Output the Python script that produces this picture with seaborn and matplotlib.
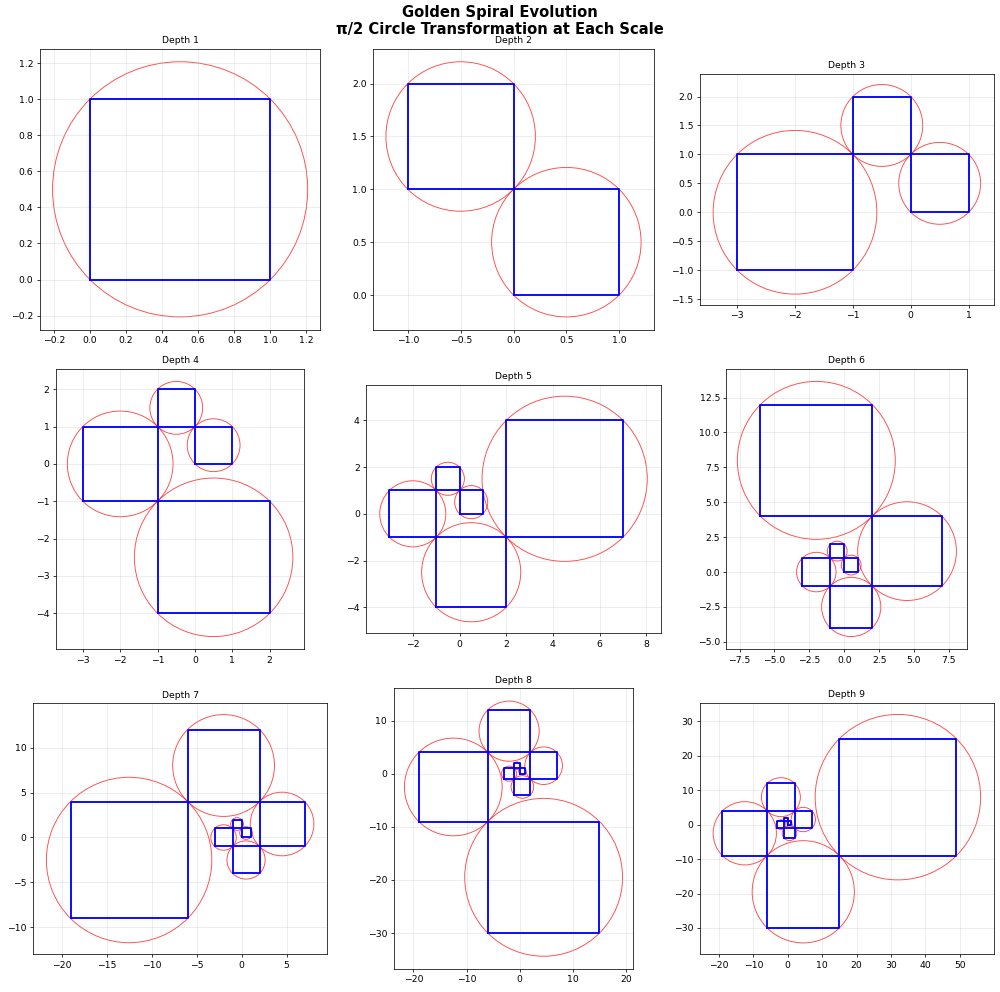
import numpy as np
import pandas as pd
import seaborn as sns
import matplotlib
matplotlib.use("Agg")
import matplotlib.pyplot as plt
from matplotlib.patches import Circle

# Fibonacci squares: lower-left corner and side length, one per depth
sq_x0 = [0, -1, -3, -1, 2, -6, -19, -6, 15]
sq_y0 = [0, 1, -1, -4, -1, 4, -9, -30, -9]
sq_side = [1, 1, 2, 3, 5, 8, 13, 21, 34]
depths = [1, 2, 3, 4, 5, 6, 7, 8, 9]


def square_frame(n):
    rows = []
    for i in range(n):
        x0, y0, s = sq_x0[i], sq_y0[i], sq_side[i]
        xs = [x0, x0 + s, x0 + s, x0, x0]
        ys = [y0, y0, y0 + s, y0 + s, y0]
        for k, (x, y) in enumerate(zip(xs, ys)):
            rows.append({"sq": i, "order": k, "x": x, "y": y})
    return pd.DataFrame(rows)


fig, axes = plt.subplots(3, 3, figsize=(15, 14.88))
fig.subplots_adjust(left=0.033, right=0.994, top=0.9506, bottom=0.0232,
                    wspace=0.133, hspace=0.139)

for ax, d in zip(axes.flat, depths):
    df = square_frame(d)
    sns.lineplot(data=df, x="x", y="y", units="sq", estimator=None, sort=False,
                 color="blue", linewidth=2, legend=False, ax=ax)

    for i in range(d):
        s = sq_side[i]
        cx = sq_x0[i] + s / 2
        cy = sq_y0[i] + s / 2
        circ = Circle((cx, cy), s * np.sqrt(2) / 2, fill=False,
                      edgecolor="red", alpha=0.7, linewidth=1)
        ax.add_patch(circ)

    ax.set_aspect("equal")
    ax.autoscale_view()
    ax.grid(True, alpha=0.3)
    ax.set_xlabel("")
    ax.set_ylabel("")
    ax.set_title(f"Depth {d}", fontsize=10)

fig.suptitle("Golden Spiral Evolution\nπ/2 Circle Transformation at Each Scale",
             fontsize=16, fontweight="bold", y=0.995)

plt.savefig("out.png", dpi=1000 / 15)
